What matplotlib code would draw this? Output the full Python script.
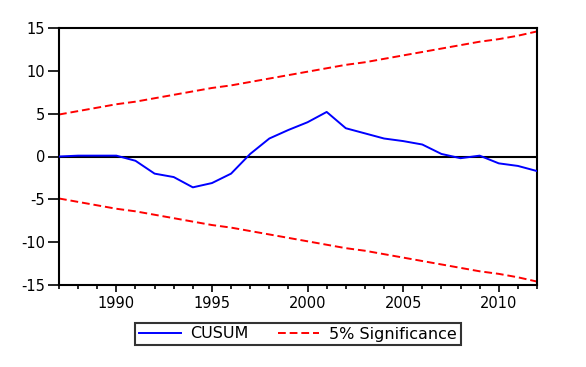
import numpy as np
import matplotlib.pyplot as plt

plt.rcParams['font.family'] = ['DejaVu Sans']
plt.rcParams['axes.unicode_minus'] = False

years = list(range(1987, 2013))
cusum = [0.0, 0.1, 0.1, 0.1, -0.5, -2.0, -2.4, -3.6, -3.1, -2.0, 0.3, 2.1, 3.1,
         4.0, 5.2, 3.3, 2.7, 2.1, 1.8, 1.4, 0.3, -0.2, 0.1, -0.8, -1.1, -1.7]
upper = [4.9, 5.3, 5.7, 6.1, 6.4, 6.8, 7.2, 7.6, 8.0, 8.3, 8.7, 9.1, 9.5,
         9.9, 10.3, 10.7, 11.0, 11.4, 11.8, 12.2, 12.6, 13.0, 13.4, 13.7, 14.1, 14.6]
lower = [-v for v in upper]

fig = plt.figure(figsize=(5.86, 3.67), dpi=100)
ax = fig.add_axes([59/586, 1 - 285/367, 478/586, 257/367])

ax.axhline(0, color="black", lw=1.5, zorder=1)
ax.plot(years, cusum, color="blue", lw=1.4, label="CUSUM", zorder=3)
ax.plot(years, upper, color="red", lw=1.4, ls=(0, (4, 2)), label="5% Significance", zorder=2)
ax.plot(years, lower, color="red", lw=1.4, ls=(0, (4, 2)), zorder=2)

ax.set_xlim(1987, 2012)
ax.set_ylim(-15, 15)
ax.set_xticks([1990, 1995, 2000, 2005, 2010])
ax.set_xticks(years, minor=True)
ax.set_yticks([-15, -10, -5, 0, 5, 10, 15])
ax.tick_params(axis="x", which="major", length=5, width=1.2, labelsize=10.5, pad=3)
ax.tick_params(axis="x", which="minor", length=3, width=1.2)
ax.tick_params(axis="y", length=8, width=1.2, labelsize=10.5, pad=2)
for s in ax.spines.values():
    s.set_linewidth(1.5)

leg = fig.legend(loc="center", bbox_to_anchor=(298/586, 1 - 334/367), ncol=2,
                 fontsize=11.5, frameon=True, fancybox=False, edgecolor="black",
                 handlelength=2.6, columnspacing=1.8, borderpad=0.25, handletextpad=0.6,
                 borderaxespad=0)
leg.get_frame().set_linewidth(1.5)

fig.savefig("out.png", dpi=100)
